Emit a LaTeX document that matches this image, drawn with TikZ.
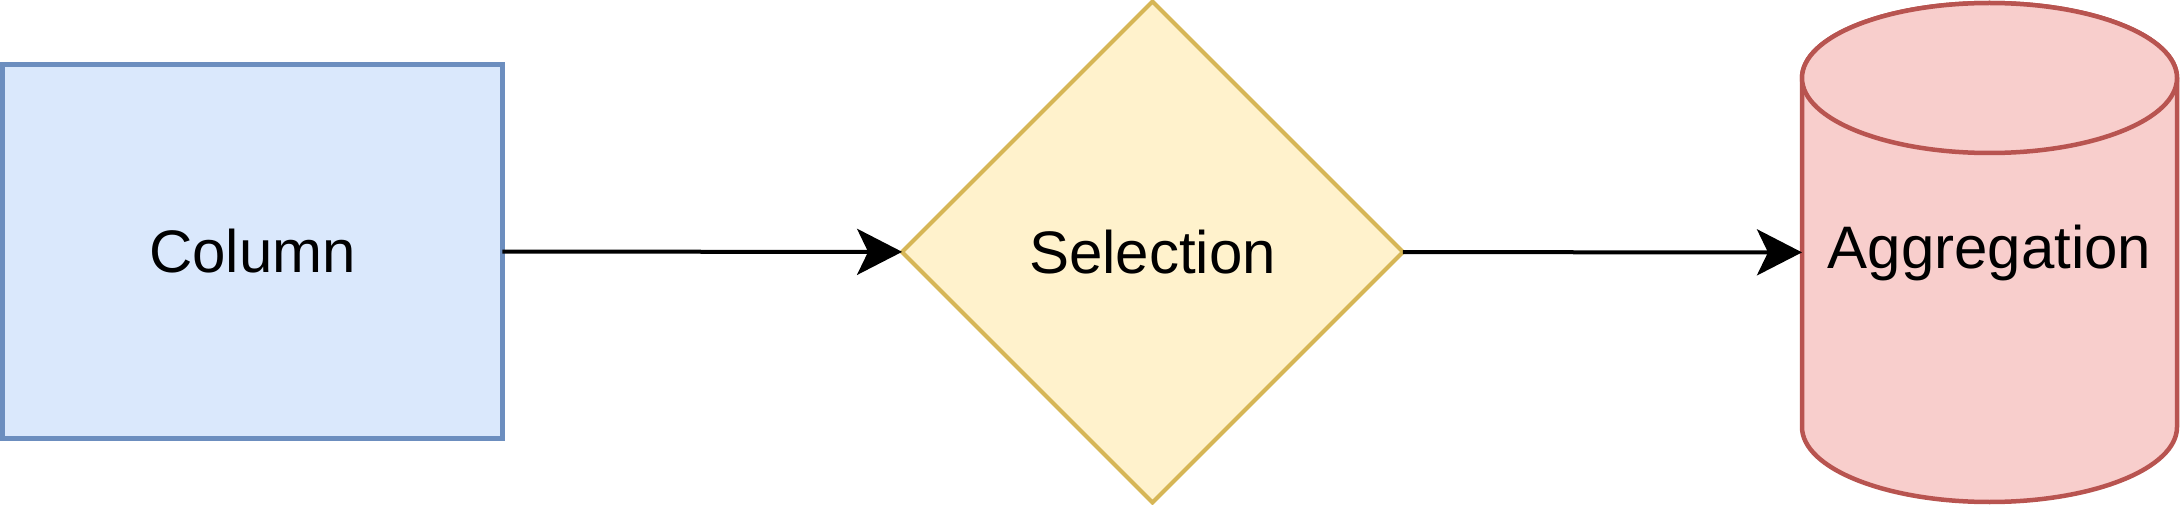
\documentclass[tikz,border=0pt]{standalone}
\usepackage{fontspec}
\setmainfont{Liberation Sans}
\usetikzlibrary{shapes.geometric,arrows.meta,backgrounds}

\definecolor{colfill}{HTML}{DAE8FC}
\definecolor{colline}{HTML}{6C8EBF}
\definecolor{selfill}{HTML}{FFF2CC}
\definecolor{selline}{HTML}{D6B656}
\definecolor{aggfill}{HTML}{F8CECC}
\definecolor{aggline}{HTML}{B85450}

\begin{document}
\begin{tikzpicture}[x=1pt,y=-1pt,
        every node/.style={font=\fontsize{60}{72}\selectfont,inner sep=0pt,outer sep=0pt},
        flow/.style={-{Stealth[length=45pt,width=46pt,inset=11pt]},line width=4pt},
        cyl/.style={draw=aggline,fill=aggfill,line width=4.5pt}
    ]
    \useasboundingbox (0,0) rectangle (2180,505);
    \node[draw=colline,fill=colfill,line width=5pt,minimum width=499.5pt,minimum height=374.5pt] (col) at (252.5,251.5) {Column};
    \node[diamond,draw=selline,fill=selfill,line width=4pt,minimum width=501pt,minimum height=501pt] (sel) at (1152.5,252) {Selection};
    \node[minimum width=375pt,minimum height=499pt] (agg) at (1989.5,252.5) {Aggregation};
    % cylinder behind its text
    \begin{scope}[on background layer]
        \draw[cyl] (agg.north west) ++(0,75) -- ++(0,349)
            arc[start angle=180,end angle=0,x radius=187.5,y radius=75]
            -- ++(0,-349)
            arc[start angle=0,end angle=-180,x radius=187.5,y radius=75] -- cycle;
        \draw[cyl] (agg.north) ++(0,75) ellipse[x radius=187.5,y radius=75];
    \end{scope}
    \draw[flow] (col) -- (sel);
    \draw[flow] (sel) -- (agg);
\end{tikzpicture}
\end{document}
